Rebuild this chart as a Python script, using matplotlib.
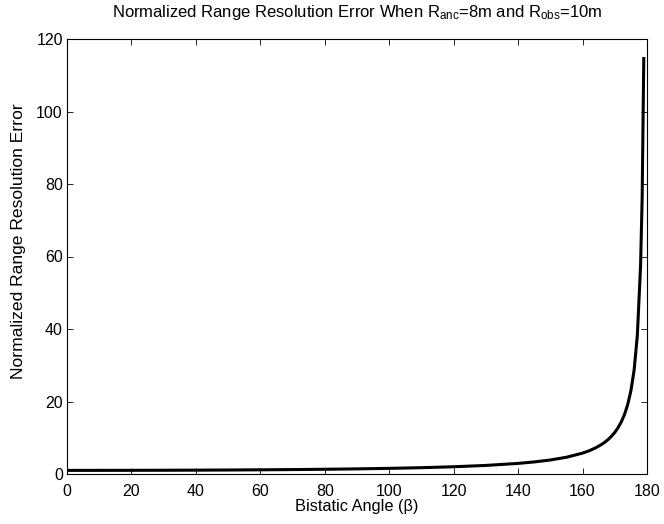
import matplotlib
matplotlib.use("Agg")
import matplotlib.pyplot as plt

plt.rcParams['font.family'] = ['Liberation Sans', 'DejaVu Sans']
plt.rcParams['mathtext.fontset'] = 'custom'
plt.rcParams['mathtext.rm'] = 'Liberation Sans'
plt.rcParams['mathtext.it'] = 'Liberation Sans'

# Bistatic angle (degrees) and the normalized range resolution error
beta = [0, 10, 20, 30, 40, 50, 60, 70, 80, 90, 100, 110, 120, 130, 140,
        145, 150, 155, 160, 162, 164, 166, 167, 168, 169, 170, 171, 172,
        173, 174, 175, 176, 177, 178, 178.5, 179]
error = [1.00, 1.004, 1.015, 1.035, 1.064, 1.103, 1.155, 1.221, 1.305,
         1.414, 1.556, 1.743, 2.00, 2.366, 2.924, 3.33, 3.864, 4.62, 5.76,
         6.39, 7.19, 8.21, 8.83, 9.57, 10.43, 11.47, 12.75, 14.34, 16.38,
         19.11, 22.93, 28.65, 38.20, 57.30, 76.39, 114.6]

xticks = [0, 20, 40, 60, 80, 100, 120, 140, 160, 180]
yticks = [0, 20, 40, 60, 80, 100, 120]

fig = plt.figure(figsize=(6.64, 5.24), dpi=100)
ax = fig.add_axes([67 / 664, 1 - 474 / 524, 580 / 664, 435 / 524])

ax.plot(beta, error, color='black', linewidth=2.2)

ax.set_xlim(0, 180)
ax.set_ylim(0, 120)
ax.set_xticks(xticks)
ax.set_yticks(yticks)
ax.tick_params(direction='in', length=4, width=0.6, labelsize=11.5,
               top=True, right=True)
ax.tick_params(axis='x', pad=7)
ax.tick_params(axis='y', pad=3)
for s in ax.spines.values():
    s.set_linewidth(0.8)

ax.set_xlabel('Bistatic Angle (β)', fontsize=11.8, labelpad=0)
ax.set_ylabel('Normalized Range Resolution Error', fontsize=12.6)
ax.yaxis.set_label_coords(-0.07, 0.536)
ax.set_title(r'Normalized Range Resolution Error When R$_{\mathrm{anc}}$=8m and R$_{\mathrm{obs}}$=10m',
             fontsize=12, pad=16)

fig.savefig('out.png', dpi=100)
